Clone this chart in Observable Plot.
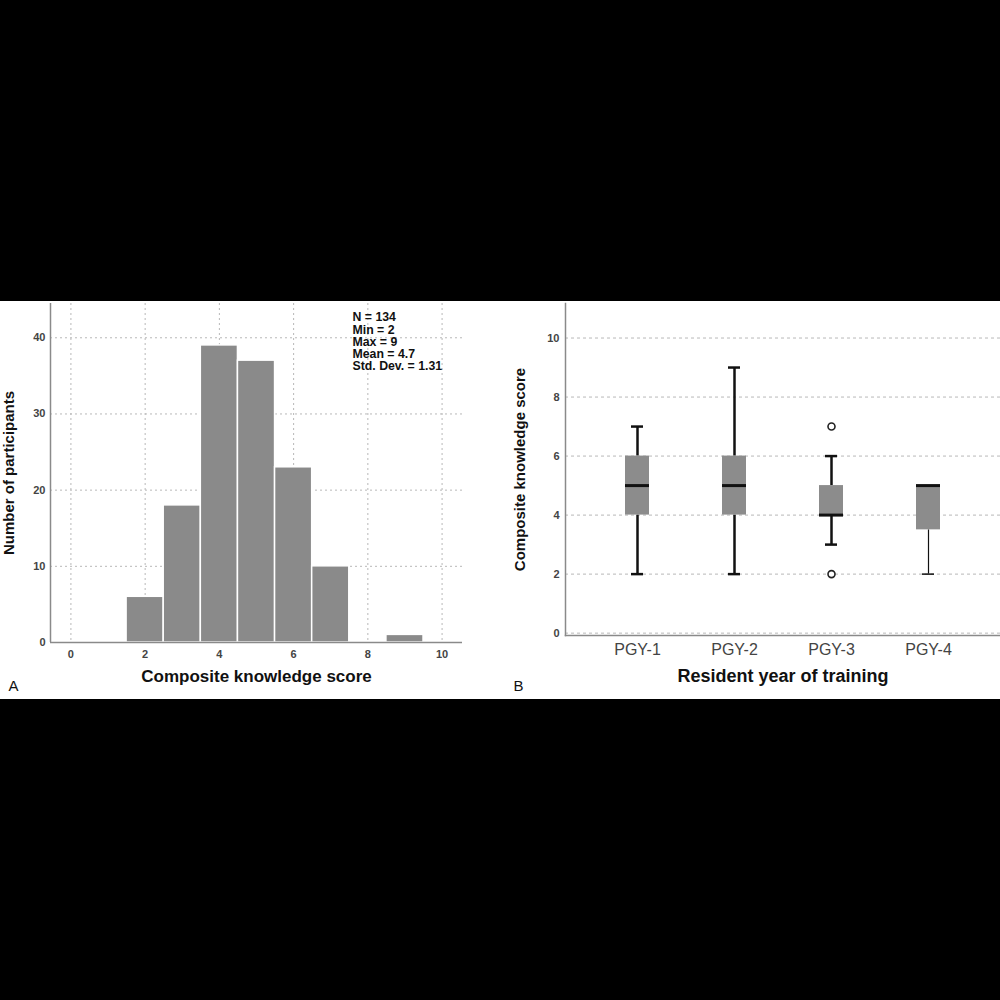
<!DOCTYPE html>
<html>
<head>
<meta charset="utf-8">
<script src="https://cdn.jsdelivr.net/npm/d3@7"></script>
<script src="https://cdn.jsdelivr.net/npm/@observablehq/plot@0.6"></script>
<style>
  html, body { margin: 0; padding: 0; background: #000; width: 1000px; height: 1000px; overflow: hidden; }
  #panel { position: absolute; left: 0; top: 301px; width: 1000px; height: 398px; background: #fff; }
  #chartA { position: absolute; left: 0; top: 0; }
  #chartB { position: absolute; left: 500px; top: 0; }
  svg { font-family: "Liberation Sans", Arial, sans-serif; }
</style>
</head>
<body>
<div id="panel"><div id="chartA"></div><div id="chartB"></div></div>
<script>
// ---- Panel A data (histogram) ----
const scoreBins = [2, 3, 4, 5, 6, 7, 9];
const binCounts = [6, 18, 39, 37, 23, 10, 1];
const xTicksA = [0, 2, 4, 6, 8, 10];
const yTicksA = [0, 10, 20, 30, 40];
const statsLines = ["N = 134", "Min = 2", "Max = 9", "Mean = 4.7", "Std. Dev. = 1.31"];
const xDomainA = [-0.55, 10.55];
const yDomainA = [0, 44.5];

// ---- Panel B data (box plot) ----
const years = ["PGY-1", "PGY-2", "PGY-3", "PGY-4"];
const whiskerLow = [2, 2, 3, 2];
const q1 = [4, 4, 4, 3.5];
const medians = [5, 5, 4, 5];
const q3 = [6, 6, 5, 5];
const whiskerHigh = [7, 9, 6, 5];
const outlierYears = ["PGY-3", "PGY-3"];
const outlierValues = [7, 2];
const yTicksB = [0, 2, 4, 6, 8, 10];
const yDomainB = [-0.08, 11.17];

const font = '"Liberation Sans", Arial, sans-serif';

// ---------- Panel A ----------
const bins = scoreBins.map((s, i) => ({score: s, count: binCounts[i]}));
const chartA = Plot.plot({
  width: 500, height: 398,
  marginLeft: 50, marginRight: 38, marginTop: 2, marginBottom: 57,
  style: {fontFamily: font, background: "transparent"},
  x: {domain: xDomainA},
  y: {domain: yDomainA},
  marks: [
    Plot.gridX(xTicksA, {stroke: "#b8b8b8", strokeOpacity: 1, strokeDasharray: "2,3"}),
    Plot.gridY(yTicksA.filter(d => d > 0), {stroke: "#b8b8b8", strokeOpacity: 1, strokeDasharray: "2,3"}),
    Plot.rect(bins, {x1: d => d.score - 0.5, x2: d => d.score + 0.5, y1: 0, y2: "count",
      fill: "#8a8a8a", stroke: "#fff", strokeWidth: 1.5}),
    Plot.ruleY([yDomainA[0]], {stroke: "#8a8a8a", strokeWidth: 1.5}),
    Plot.ruleX([xDomainA[0]], {stroke: "#8a8a8a", strokeWidth: 1.5}),
    Plot.axisX(xTicksA, {tickSize: 0, tickPadding: 8, fontSize: 11, fontWeight: "bold", fill: "#444", label: null}),
    Plot.axisY(yTicksA, {tickSize: 0, tickPadding: 5, fontSize: 11, fontWeight: "bold", fill: "#444", label: null}),
    Plot.text([statsLines.join("\n")], {frameAnchor: "top-left", dx: 302, dy: 9,
      textAnchor: "start", lineAnchor: "top", lineHeight: 1, fontSize: 12.3, fontWeight: "bold", fill: "#111"}),
    Plot.text(["Number of participants"], {frameAnchor: "left", dx: -41, rotate: -90, textAnchor: "middle",
      fontSize: 15, fontWeight: "bold", fill: "#111"}),
    Plot.text(["Composite knowledge score"], {frameAnchor: "bottom", dy: 39,
      fontSize: 17, fontWeight: "bold", fill: "#111"}),
    Plot.text(["A"], {frameAnchor: "bottom-left", dx: -42, dy: 48, textAnchor: "start",
      fontSize: 15, fill: "#111"})
  ]
});
document.getElementById("chartA").appendChild(chartA);

// ---------- Panel B ----------
const boxes = years.map((y, i) => ({year: y, lo: whiskerLow[i], q1: q1[i], med: medians[i], q3: q3[i], hi: whiskerHigh[i]}));
const outliers = outlierYears.map((y, i) => ({year: y, value: outlierValues[i]}));
const thin = d => d.year === "PGY-4";
const chartB = Plot.plot({
  width: 500, height: 398,
  marginLeft: 65, marginRight: 0, marginTop: 2, marginBottom: 64,
  style: {fontFamily: font, background: "transparent"},
  x: {type: "band", domain: years, paddingInner: 0.755, paddingOuter: 0.6},
  y: {domain: yDomainB},
  marks: [
    Plot.gridY(yTicksB, {stroke: "#b8b8b8", strokeOpacity: 1, strokeDasharray: "3,3"}),
    Plot.frame({anchor: "left", stroke: "#8a8a8a", strokeWidth: 1.5}),
    Plot.frame({anchor: "bottom", stroke: "#8a8a8a", strokeWidth: 1.5}),
    // lower whiskers
    Plot.ruleX(boxes.filter(d => !thin(d)), {x: "year", y1: "lo", y2: "q1", stroke: "#111", strokeWidth: 2.5}),
    Plot.ruleX(boxes.filter(thin), {x: "year", y1: "lo", y2: "q1", stroke: "#111", strokeWidth: 1.2}),
    // upper whiskers
    Plot.ruleX(boxes.filter(d => d.hi > d.q3), {x: "year", y1: "q3", y2: "hi", stroke: "#111", strokeWidth: 2.5}),
    // caps
    Plot.tickY(boxes.filter(d => !thin(d)), {x: "year", y: "lo", stroke: "#111", strokeWidth: 2.5, insetLeft: 6, insetRight: 6}),
    Plot.tickY(boxes.filter(thin), {x: "year", y: "lo", stroke: "#111", strokeWidth: 1.5, insetLeft: 6, insetRight: 6}),
    Plot.tickY(boxes.filter(d => d.hi > d.q3), {x: "year", y: "hi", stroke: "#111", strokeWidth: 2.5, insetLeft: 6, insetRight: 6}),
    // boxes
    Plot.barY(boxes, {x: "year", y1: "q1", y2: "q3", fill: "#8c8c8c"}),
    // medians
    Plot.tickY(boxes, {x: "year", y: "med", stroke: "#111", strokeWidth: 3}),
    // outliers
    Plot.dot(outliers, {x: "year", y: "value", r: 3.5, fill: "#fff", stroke: "#222", strokeWidth: 1.6}),
    Plot.axisX({tickSize: 0, tickPadding: 8, fontSize: 16, fill: "#444", label: null}),
    Plot.axisY(yTicksB, {tickSize: 0, tickPadding: 6, fontSize: 11, fontWeight: "bold", fill: "#444", label: null}),
    Plot.text(["Composite knowledge score"], {frameAnchor: "left", dx: -45, rotate: -90, textAnchor: "middle",
      fontSize: 15, fontWeight: "bold", fill: "#111"}),
    Plot.text(["Resident year of training"], {frameAnchor: "bottom", dy: 46,
      fontSize: 18, fontWeight: "bold", fill: "#111"}),
    Plot.text(["B"], {frameAnchor: "bottom-left", dx: -52, dy: 55, textAnchor: "start",
      fontSize: 15, fill: "#111"})
  ]
});
document.getElementById("chartB").appendChild(chartB);
</script>
</body>
</html>
